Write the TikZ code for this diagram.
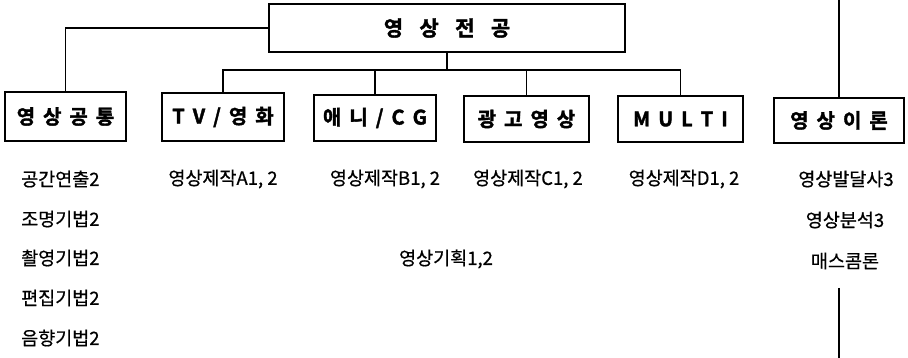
\documentclass[tikz,border=0pt]{standalone}
\usepackage{fontspec}
\setmainfont{Noto Sans CJK KR}[BoldFont={Noto Sans CJK KR Bold}, BoldFeatures={FakeBold=1.8}]
\newfontfamily\bodyfont{Noto Sans CJK KR}[FakeBold=0.6]
\newcommand\hs{\hspace{0.4em}}
\newcommand\hsw{\hspace{0.78em}}
\begin{document}
\begin{tikzpicture}[x=1pt,y=-1pt,
  boxlbl/.style={draw, line width=1.3pt, inner sep=0pt, font=\fontsize{20}{22}\selectfont\bfseries},
  item/.style={inner sep=0pt, font=\bodyfont\fontsize{18.5}{21}\selectfont},
  conn/.style={line width=1.2pt}]
\useasboundingbox (0,0) rectangle (908,358);
% boxes
\node[boxlbl, minimum width=356pt, minimum height=48pt, font=\fontsize{21}{22}\selectfont\bfseries] (main) at (447,28) {영\hsw 상\hsw 전\hsw 공};
\node[boxlbl, minimum width=121pt, minimum height=49pt] (gt) at (65.5,116.5) {영\hs 상\hs 공\hs 통};
\node[boxlbl, minimum width=122pt, minimum height=48pt] (tv) at (223,117) {T\hs V\hs /\hs 영\hs 화};
\node[boxlbl, minimum width=122pt, minimum height=46pt] (ani) at (375,118) {애\hs 니\hs /\hs C\hs G};
\node[boxlbl, minimum width=125pt, minimum height=46pt] (ad) at (526.5,119) {광\hs 고\hs 영\hs 상};
\node[boxlbl, minimum width=125pt, minimum height=46pt] (multi) at (680.5,119) {M\hs U\hs L\hs T\hs I};
\node[boxlbl, minimum width=130pt, minimum height=45pt] (theory) at (839,120.5) {영\hs 상\hs 이\hs 론};
% connectors
\coordinate (tl) at (62,0);
\coordinate (tr) at (theory.north |- 0,0);
\coordinate (bus) at (main.south |- 0,70);
\draw[conn] (tl) |- ([yshift=9pt]main.north west);
\draw[conn] (main.west) -| (gt.north);
\draw[conn] (main.south) -- (bus);
\draw[conn] (tv.north) |- (bus) -| (multi.north);
\draw[conn] (ani.north) -- (ani.north |- bus);
\draw[conn] (ad.north) -- (ad.north |- bus);
\draw[conn] (tr) -- (theory.north);
% left column
\node[item, anchor=west] (l1) at (21,179) {공간연출2};
\node[item, anchor=west] (l2) at (21,219) {조명기법2};
\node[item, anchor=west] (l3) at (21,258) {촬영기법2};
\node[item, anchor=west] (l4) at (21,298) {편집기법2};
\node[item, anchor=west] (l5) at (21,338) {음향기법2};
% middle
\node[item] (pa) at (223,179) {영상제작A1, 2};
\node[item] (pb) at (385,179) {영상제작B1, 2};
\node[item] (pc) at (528,179) {영상제작C1, 2};
\node[item] (pd) at (684,179) {영상제작D1, 2};
\node[item] (plan) at (446,259) {영상기획1,2};
% right column
\node[item] (r1) at (846,179) {영상발달사3};
\node[item] (r2) at (845,220) {영상분석3};
\node[item] (r3) at (845,261) {매스콤론};
\coordinate (rb1) at (839,288);
\coordinate (rb2) at (839,358);
\draw[conn] (rb1) -- (rb2);
\end{tikzpicture}
\end{document}
